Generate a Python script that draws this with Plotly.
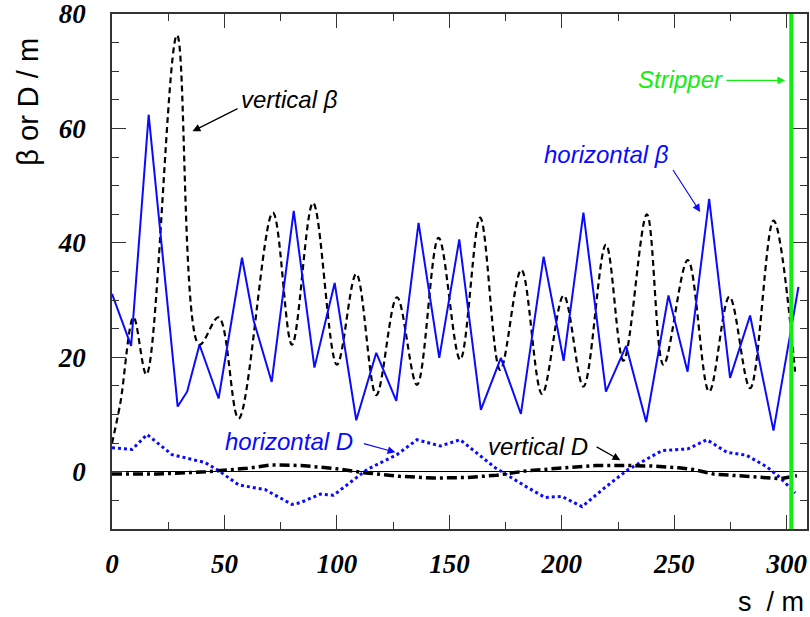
import plotly.graph_objects as go

# ---- data ----
hbeta_s = [0, 8.5, 16.3, 29.2, 33.4, 38.9, 47.4, 57.8, 63, 71, 80.8, 90, 99, 108.6, 117.5, 126.4,
           136.3, 145.5, 154.4, 164, 172.9, 181.8, 191.9, 200.8, 209.6, 219.6, 228.6, 237.5,
           247.4, 255.9, 265.5, 274.8, 283.7, 294.1, 305.2]
hbeta_y = [31.1, 22, 62.4, 11.4, 14, 22.2, 12.8, 37.4, 26.4, 15.7, 45.6, 18.2, 33, 9, 20.8, 12.4,
           43.5, 19.9, 40.6, 10.8, 19.9, 10.1, 37.6, 19.4, 45.3, 14, 22, 8.7,
           30.8, 17.5, 47.7, 16.4, 27.3, 7.2, 32.3]

vbeta_s = [0, 3.7, 9.6, 15.3, 28.9, 38.8, 47.4, 56.3, 71.5, 80, 89.4, 100, 108.6, 117.5, 126.7,
           135.6, 145.2, 154.8, 163.7, 172.6, 182, 191.2, 200.8, 209.6, 219.6, 227.4, 237.8,
           245.2, 256, 265.5, 274.5, 283.7, 294.1, 303.7]
vbeta_y = [5, 12, 27, 17, 76.3, 22.2, 27, 9.3, 45.3, 22.2, 47, 18.7, 34.6, 13.4, 30.5,
           15.2, 40.9, 19.6, 44.4, 17.8, 35.3, 13.6, 30.8, 14.9, 39.7, 19.4, 45,
           18.7, 37, 14, 30.6, 14.6, 43.9, 17.5]

hD_s = [0, 8.9, 15.6, 26.7, 41.5, 47.4, 56.3, 68, 80, 83.7, 92.6, 98.5, 113.4, 126.7, 135.6, 146,
        154.8, 170.4, 185, 192.6, 200, 209, 219, 229.5, 244.5, 256, 264.5, 273.4, 282, 291, 297, 303.7]
hD_y = [4.2, 3.9, 6.5, 3, 1.6, 0.2, -2.3, -3.1, -5.7, -5.4, -3.9, -4.1, 0.4, 3, 5.6, 4.5,
        5.6, 0.7, -2.8, -4.5, -4.3, -6.1, -2.8, 0.4, 3.7, 4, 5.6, 3.4, 2.9, 0.9, -1, -3.7]

vD_s = [0, 20, 41.6, 60, 71, 84, 98.4, 113, 128, 143, 158, 171, 185, 200, 215, 229.6, 240, 252,
        258.5, 267.4, 278, 288, 297, 304.5]
vD_y = [-0.4, -0.4, 0, 0.6, 1.2, 1.1, 0.6, -0.2, -0.8, -1.1, -1.0, -0.6, 0.2, 0.6, 1.1, 1.1, 1.0, 0.7,
        0.4, -0.4, -0.7, -1.0, -1.2, -0.7]

stripper_s = 302

x_ticks = [0, 50, 100, 150, 200, 250, 300]
y_ticks = [0, 20, 40, 60, 80]

BLUE = "#0a0aff"
GREEN = "#11ee11"

fig = go.Figure()
fig.add_trace(go.Scatter(x=hD_s, y=hD_y, mode="lines",
                         line=dict(color=BLUE, width=3, dash="dot")))
fig.add_trace(go.Scatter(x=vD_s, y=vD_y, mode="lines",
                         line=dict(color="black", width=3.5, dash="10px,4px,3px,4px")))
fig.add_trace(go.Scatter(x=vbeta_s, y=vbeta_y, mode="lines", line_shape="spline",
                         line=dict(color="black", width=2.2, dash="6px,4px")))
fig.add_trace(go.Scatter(x=hbeta_s, y=hbeta_y, mode="lines",
                         line=dict(color=BLUE, width=2)))

fig.add_shape(type="line", xref="x", yref="paper", x0=stripper_s, x1=stripper_s, y0=0, y1=1,
              line=dict(color=GREEN, width=4))

tickfont = dict(family="Liberation Serif", size=27, color="black", weight="bold", style="italic")
axis_common = dict(showline=True, linecolor="#333", linewidth=1.5, mirror="allticks",
                   ticks="inside", ticklen=14, tickwidth=1.2, tickcolor="#333",
                   showgrid=False, tickfont=tickfont, automargin=False,
                   ticklabeloverflow="allow")

fig.update_xaxes(range=[0, 309], tickvals=x_ticks, ticklabelstandoff=10,
                 minor=dict(ticks="inside", ticklen=7, dtick=25, tick0=0, tickcolor="#333",
                            showgrid=False),
                 zeroline=False, **axis_common)
fig.update_yaxes(range=[-10, 80], tickvals=y_ticks, ticklabelstandoff=19,
                 minor=dict(ticks="inside", ticklen=7, dtick=5, tick0=0, tickcolor="#333",
                            showgrid=False),
                 zeroline=True, zerolinecolor="black", zerolinewidth=1.2, **axis_common)

ann_font = dict(family="Liberation Sans", size=24)
texts = [
    ("<i>vertical β</i>", 78.8, 65.1, "black"),
    ("<i>horizontal β</i>", 219.8, 55.5, BLUE),
    ("<i>horizontal D</i>", 78.8, 5.3, BLUE),
    ("<i>vertical D</i>", 189.5, 4.5, "black"),
    ("<i>Stripper</i>", 252.6, 68.6, GREEN),
]
for t, x, y, c in texts:
    fig.add_annotation(text=t, x=x, y=y, showarrow=False, font=dict(color=c, **ann_font),
                       xanchor="center", yanchor="middle")

arrows = [
    (35.8, 59.5, 56.5, 63.6, "black"),
    (261.5, 45.4, 249.0, 53.0, BLUE),
    (126.0, 3.4, 111.3, 5.0, BLUE),
    (226.0, 2.0, 214.8, 4.5, "black"),
    (299.3, 68.4, 272.5, 68.4, GREEN),
]
for hx, hy, tx, ty, c in arrows:
    fig.add_annotation(text="", x=hx, y=hy, ax=tx, ay=ty, axref="x", ayref="y",
                       showarrow=True, arrowhead=2, arrowsize=1.3, arrowwidth=1.2,
                       arrowcolor=c)

fig.add_annotation(text="β or D / m", xref="paper", yref="y", x=-0.12, y=64.6,
                   textangle=-90, showarrow=False, xanchor="center", yanchor="middle",
                   font=dict(family="Liberation Sans", size=29, color="black"))
fig.add_annotation(text="s  / m", xref="paper", yref="paper", x=0.948, y=-0.142,
                   showarrow=False, xanchor="center", yanchor="middle",
                   font=dict(family="Liberation Sans", size=27, color="black"))

fig.update_layout(width=810, height=617, margin=dict(l=112, r=3, t=14, b=88),
                  paper_bgcolor="white", plot_bgcolor="white", showlegend=False)

fig.write_html("out.html", config={"displayModeBar": False},
               post_script="document.body.style.margin='0';document.body.style.overflow='hidden';")
